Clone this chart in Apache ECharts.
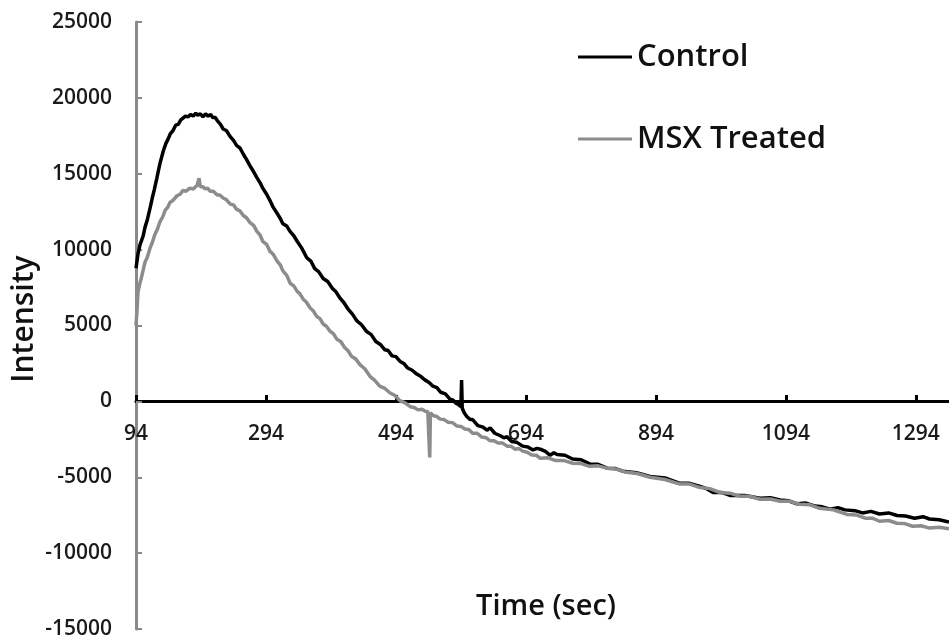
<!DOCTYPE html>
<html>
<head>
<meta charset="utf-8">
<script src="https://cdn.jsdelivr.net/npm/echarts@6/dist/echarts.min.js"></script>
<style>
html,body{margin:0;padding:0;background:#fff;}
#chart{width:949px;height:641px;}
</style>
</head>
<body>
<div id="chart"></div>
<script>
var xTickValues = [94, 294, 494, 694, 894, 1094, 1294];
var yTickValues = [-15000, -10000, -5000, 0, 5000, 10000, 15000, 20000, 25000];

var controlTime = [94,97,100,105,108,111,116,119,122,126,129,131,136,140,143,147,151,155,159,163,166,170,174,178,182,186,189,193,197,201,205,209,212,216,220,224,228,233,239,244,249,254,259,264,269,274,280,285,289,295,300,305,311,316,320,326,331,337,342,349,357,363,369,375,382,389,396,402,408,414,420,427,434,441,449,456,463,470,477,482,488,494,500,506,512,519,526,532,539,545,551,557,563,570,577,582,586,590,594,595,596,599,603,608,612,620,628,634,639,646,654,660,665,672,680,689,697,705,711,716,724,731,737,742,754,766,779,792,805,819,831,843,864,885,908,931,946,962,972,982,995,1008,1031,1054,1070,1085,1098,1111,1125,1139,1150,1162,1174,1185,1200,1212,1225,1238,1252,1265,1278,1292,1305,1315,1330,1345];
var controlValue = [8770,9700,10300,10900,11500,11900,12800,13400,13920,14700,15300,15700,16500,17000,17250,17650,17850,18200,18250,18550,18600,18800,18750,18900,18800,19000,18850,18950,18750,18950,18800,18900,18700,18700,18450,18250,17950,17850,17450,17200,16850,16700,16300,15950,15550,15200,14750,14400,14050,13650,13250,12800,12400,12050,11700,11550,11200,10900,10550,10100,9450,9250,8750,8550,8100,7900,7450,7200,6800,6500,6100,5750,5300,5050,4600,4400,3950,3750,3400,3350,3000,2950,2650,2500,2200,2050,1800,1650,1400,1250,1000,900,600,500,150,80,-120,-200,-350,1400,-450,-750,-1000,-1200,-1200,-1600,-1700,-1900,-1750,-2100,-2250,-2400,-2330,-2650,-2700,-2950,-3000,-3200,-3100,-3150,-3300,-3550,-3380,-3500,-3550,-3800,-3850,-4120,-4150,-4400,-4420,-4600,-4700,-4950,-5050,-5400,-5400,-5600,-5750,-6000,-6000,-6200,-6200,-6380,-6350,-6500,-6550,-6750,-6700,-6900,-6950,-7100,-7000,-7150,-7200,-7350,-7250,-7420,-7350,-7520,-7550,-7700,-7600,-7750,-7800,-7950];

var msxTime = [94,96,97,100,102,105,108,111,116,119,123,127,131,135,139,143,146,151,157,162,166,171,177,182,188,190,191,193,197,200,204,208,213,219,223,228,233,239,244,249,254,259,264,269,275,280,285,289,295,300,305,311,316,320,326,331,337,342,346,351,356,362,367,372,377,382,387,392,398,403,409,415,420,426,432,439,446,454,461,469,477,485,492,500,508,516,522,528,534,539,543,545,546,547,552,557,562,568,574,581,588,594,600,606,612,619,626,633,639,645,651,658,665,671,677,683,689,696,703,710,716,728,740,753,766,779,792,805,819,832,846,865,885,908,931,946,962,977,992,1008,1023,1038,1054,1070,1085,1100,1115,1131,1146,1167,1188,1202,1216,1227,1238,1252,1265,1277,1289,1302,1315,1330,1345];
var msxValue = [5000,6300,7200,7800,8100,8650,9200,9450,10150,10450,11000,11350,11850,12150,12600,12800,13100,13250,13550,13650,13900,13850,14050,14000,14250,14300,14700,14150,14150,14000,14050,13850,13850,13600,13600,13400,13300,13000,12950,12650,12550,12250,12100,11800,11600,11200,10950,10550,10350,9900,9700,9250,9000,8600,8300,7800,7600,7250,7100,6750,6550,6150,5950,5600,5450,5100,4950,4650,4450,4100,3950,3550,3350,2950,2800,2400,2150,1650,1400,1000,850,550,400,50,-100,-350,-400,-560,-520,-650,-680,-750,-3700,-760,-950,-1000,-1170,-1200,-1370,-1400,-1630,-1650,-1820,-1850,-2100,-2100,-2350,-2400,-2600,-2600,-2750,-2750,-2950,-2950,-3150,-3100,-3280,-3350,-3530,-3550,-3750,-3720,-3900,-3900,-4080,-4100,-4280,-4250,-4400,-4450,-4650,-4750,-5000,-5150,-5450,-5450,-5680,-5750,-6000,-6050,-6250,-6250,-6450,-6430,-6580,-6580,-6780,-6820,-7050,-7150,-7450,-7480,-7700,-7700,-7900,-7850,-8030,-8050,-8230,-8200,-8350,-8300,-8400];

function pairs(t, v) { return t.map(function (x, i) { return [x, v[i]]; }); }

var FONT = '"Open Sans", "Liberation Sans", sans-serif';
var chart = echarts.init(document.getElementById('chart'), null, {renderer: 'canvas'});
chart.setOption({
  animation: false,
  backgroundColor: '#ffffff',
  grid: {left: 136, right: 0, top: 22, bottom: 12, containLabel: false},
  legend: {
    orient: 'vertical',
    left: 578,
    top: 39,
    padding: 0,
    itemGap: 46,
    itemWidth: 54,
    itemHeight: 3,
    icon: 'rect',
    textStyle: {fontFamily: FONT, fontSize: 31, fontWeight: 600, color: '#111', lineHeight: 36},
    data: ['Control', 'MSX Treated']
  },
  xAxis: {
    type: 'value',
    min: 94,
    max: 1345,
    offset: -228,
    axisLine: {onZero: false, lineStyle: {color: '#000', width: 3}},
    axisTick: {inside: true, length: 6, customValues: xTickValues, lineStyle: {color: '#000', width: 3}},
    axisLabel: {customValues: xTickValues, margin: 23, fontFamily: FONT, fontSize: 21, fontWeight: 600, color: '#1a1a1a', formatter: function (v) { return String(v); }},
    splitLine: {show: false}
  },
  yAxis: {
    type: 'value',
    min: -15000,
    max: 25000,
    interval: 5000,
    axisLine: {show: true, onZero: false, lineStyle: {color: '#8a8a8a', width: 3}},
    axisTick: {show: true, inside: true, length: 6, lineStyle: {color: '#8a8a8a', width: 2}},
    axisLabel: {margin: 24, fontFamily: FONT, fontSize: 21, fontWeight: 600, color: '#1a1a1a', formatter: function (v) { return String(v); }},
    splitLine: {show: false}
  },
  graphic: [
    {type: 'text', x: 24, y: 319, rotation: Math.PI / 2, style: {text: 'Intensity', fontFamily: FONT, fontSize: 30, fontWeight: 600, fill: '#111', align: 'center', verticalAlign: 'middle'}},
    {type: 'text', x: 546, y: 607, style: {text: 'Time (sec)', fontFamily: FONT, fontSize: 29, fontWeight: 600, fill: '#111', align: 'center', verticalAlign: 'middle'}}
  ],
  series: [
    {name: 'Control', type: 'line', data: pairs(controlTime, controlValue), showSymbol: false, symbol: 'none', color: '#000000', lineStyle: {color: '#000000', width: 3.5}},
    {name: 'MSX Treated', type: 'line', data: pairs(msxTime, msxValue), showSymbol: false, symbol: 'none', color: '#8c8c8c', lineStyle: {color: '#8c8c8c', width: 3.5}}
  ]
});
</script>
</body>
</html>
